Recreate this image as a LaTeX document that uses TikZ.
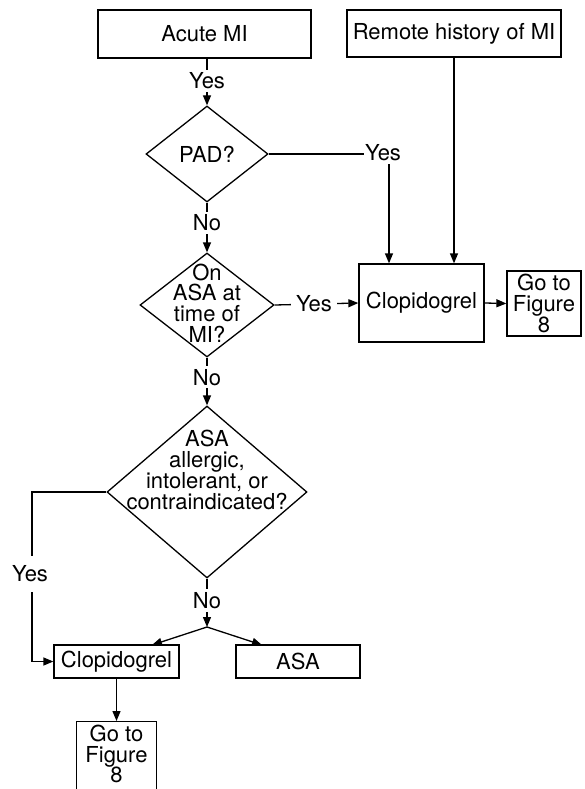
\documentclass[tikz,border=0pt]{standalone}
\usepackage{fontspec}
\setmainfont{TeX Gyre Heros}
\usetikzlibrary{shapes.geometric,arrows.meta,calc}
\begin{document}
\begin{tikzpicture}[x=1pt,y=-1pt,
  every node/.style={font=\fontsize{22}{20.8}\selectfont},
  box/.style={draw,line width=1.3pt,rectangle,inner sep=0pt,align=center},
  dia/.style={draw,line width=1.3pt,diamond,inner sep=0pt},
  dtext/.style={align=center,inner sep=0pt},
  lbl/.style={fill=white,inner xsep=2pt,inner ysep=3pt},
  conn/.style={line width=1.3pt},
  arr/.style={conn,-{Triangle[length=10pt,width=8pt]}}]
\useasboundingbox (0,0) rectangle (584,789);
\clip (0,0) rectangle (584,789);
\fill[white] (0,0) rectangle (584,789);

% boxes
\node[box,minimum width=213pt,minimum height=48pt] (acute) at (204.5,34) {Acute MI};
\node[box,minimum width=214pt,minimum height=47pt] (remote) at (454,33.5) {Remote history of MI};
\node[box,minimum width=125pt,minimum height=78pt] (clopA) at (421.5,303) {Clopidogrel};
\node[box,minimum width=74pt,minimum height=65pt] (goA) at (544,303.5) {Go to\\Figure\\8};
\node[box,minimum width=125pt,minimum height=33pt] (clopB) at (116.5,661.5) {Clopidogrel};
\node[box,minimum width=124pt,minimum height=33pt] (asa) at (298,661.5) {ASA};
\node[box,minimum width=80pt,minimum height=80pt,anchor=north] (goB) at (116.5,721) {};
\node[dtext] (goBt) at (116.5,754) {Go to\\Figure\\8};

% diamonds
\node[dia,minimum width=122pt,minimum height=96pt] (pad) at (207,154) {};
\node[dtext] (padt) at (207,154) {PAD?};
\node[dia,minimum width=134pt,minimum height=104pt] (d2) at (207,305) {};
\node[dtext] (d2t) at (207,303) {On\\ASA at\\time of\\MI?};
\node[dia,minimum width=200pt,minimum height=172pt] (d3) at (207,492) {};
\node[dtext] (d3t) at (207,470) {ASA\\allergic,\\intolerant, or\\contraindicated?};

% helper coordinates
\coordinate (pyc) at (389,154);
\coordinate (yl) at (32,492);
\coordinate (j) at (207,627);
\coordinate (cbin) at (152,645);
\coordinate (abin) at (262,645);

% connectors
\draw[arr] (acute.south -| pad.north) -- node[lbl,pos=0.48] (y1) {Yes} (pad.north);
\draw[arr] (pad.east) -- (pyc) -- (pyc |- clopA.north);
\node[lbl,inner xsep=1pt] (y2) at (383,153) {Yes};
\draw[arr] (remote.south) -- (remote.south |- clopA.north);
\draw[arr] (pad.south) -- node[lbl,pos=0.41] (n1) {No} (d2.north);
\draw[arr] (d2.east) -- node[lbl,pos=0.47,inner xsep=5pt] (y3) {Yes} (clopA.west);
\draw[arr] (clopA.east) -- (goA.west);
\draw[arr] (d2.south) -- node[lbl,pos=0.41] (n2) {No} (d3.north);
\draw[arr] (d3.west) -- (yl) |- (clopB.west);
\node[lbl,inner ysep=10pt] (y4) at (30,574) {Yes};
\draw[arr] (d3.south) -- node[lbl,pos=0.45] (n3) {No} (j);
\draw[arr] (j) -- (cbin);
\draw[arr] (j) -- (abin);
\draw[arr] (clopB.south) -- (goB.north);
\end{tikzpicture}
\end{document}
